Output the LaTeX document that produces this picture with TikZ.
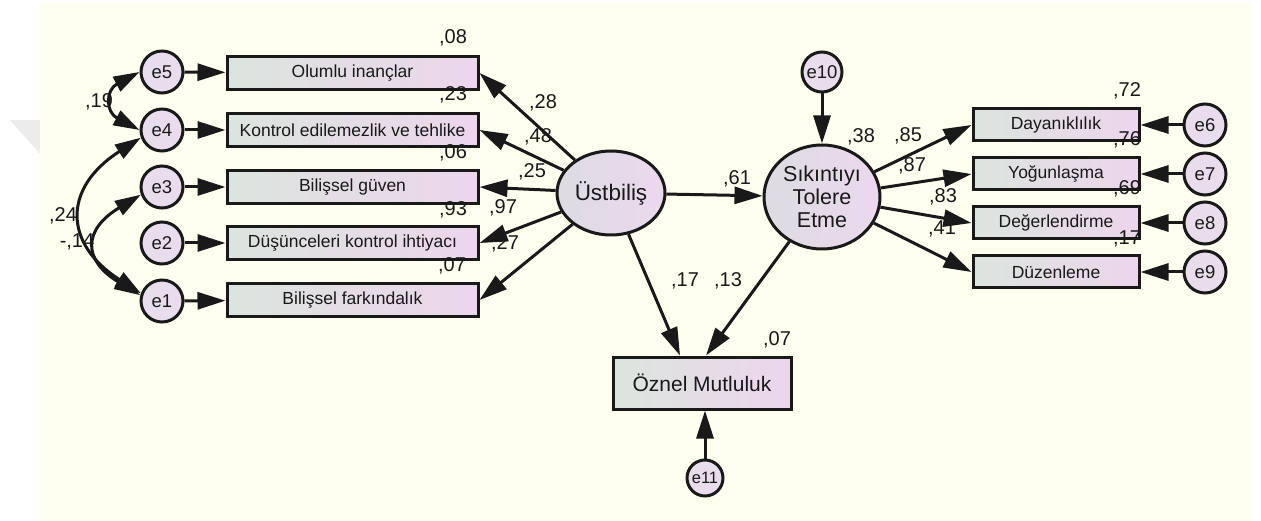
\documentclass[tikz,border=0pt]{standalone}
\usepackage{fontspec}
\setmainfont{Liberation Sans}
\usetikzlibrary{arrows.meta,calc,shapes.geometric}
\definecolor{bg}{RGB}{255,255,240}
\definecolor{boxL}{RGB}{220,228,222}
\definecolor{boxR}{RGB}{236,214,236}
\definecolor{circ}{RGB}{233,220,236}
\definecolor{ellL}{RGB}{220,220,226}
\definecolor{ellR}{RGB}{236,216,238}
\definecolor{ink}{RGB}{25,25,25}
\definecolor{wm}{RGB}{236,236,236}
\tikzset{
  obs/.style={draw=ink, line width=3pt, left color=boxL, right color=boxR, minimum height=33pt, inner sep=0pt, font=\fontsize{17.5}{20}\selectfont, text=ink},
  err/.style={circle, draw=ink, line width=3pt, fill=circ, minimum size=42pt, inner sep=0pt, font=\fontsize{18.5}{20}\selectfont, text=ink},
  lat/.style={ellipse, draw=ink, line width=3pt, left color=ellL, right color=ellR, inner sep=0pt, align=center, text=ink},
  num/.style={font=\fontsize{20}{22}\selectfont, text=ink, inner sep=0pt},
  reg/.style={line width=3pt, draw=ink, -{Triangle[length=28pt,width=17pt]}},
  cov/.style={line width=3pt, draw=ink, {Triangle[length=26pt,width=16pt]}-{Triangle[length=26pt,width=16pt]}},
}
\begin{document}
\begin{tikzpicture}[x=1pt,y=-1pt]
\useasboundingbox (0,0) rectangle (1261,521);
\fill[white] (0,0) rectangle (1261,521);
\fill[wm] (10,120) -- (40,120) -- (40,154) -- cycle;
\fill[bg] (40,3) rectangle (1251,521);

% error terms left
\node[err] (e5) at (162,72) {e5};
\node[err] (e4) at (162,130) {e4};
\node[err] (e3) at (162,187) {e3};
\node[err] (e2) at (162,243) {e2};
\node[err] (e1) at (162,301) {e1};

% left observed
\node[obs, minimum width=251pt] (b5) at (352.5,73) {Olumlu inançlar};
\node[obs, minimum width=251pt] (b4) at (352.5,130) {Kontrol edilemezlik ve tehlike};
\node[obs, minimum width=251pt] (b3) at (352.5,187) {Bilişsel güven};
\node[obs, minimum width=251pt] (b2) at (352.5,243) {Düşünceleri kontrol ihtiyacı};
\node[obs, minimum width=251pt] (b1) at (352.5,300) {Bilişsel farkındalık};

% latent
\node[lat, minimum width=108pt, minimum height=84pt, font=\fontsize{22.5}{24}\selectfont] (us) at (611,193) {Üstbiliş};
\node[lat, minimum width=116pt, minimum height=104pt, font=\fontsize{21.5}{23}\selectfont] (sk) at (822,197) {Sıkıntıyı\\Tolere\\Etme};
\node[err, minimum size=40pt] (e10) at (822,72) {e10};

% right observed
\node[obs, minimum width=166pt, minimum height=32pt] (r1) at (1056,125) {Dayanıklılık};
\node[obs, minimum width=166pt, minimum height=32pt] (r2) at (1056,174) {Yoğunlaşma};
\node[obs, minimum width=166pt, minimum height=32pt] (r3) at (1056,223) {Değerlendirme};
\node[obs, minimum width=166pt, minimum height=32pt] (r4) at (1056,272) {Düzenleme};
\node[err] (e6) at (1205,125) {e6};
\node[err] (e7) at (1205,174) {e7};
\node[err] (e8) at (1205,223) {e8};
\node[err] (e9) at (1205,272) {e9};

% outcome
\node[obs, minimum width=178pt, minimum height=52pt, font=\fontsize{21}{23}\selectfont] (oz) at (702,383) {Öznel Mutluluk};
\node[err, minimum size=36pt, font=\fontsize{16.5}{18}\selectfont] (e11) at (705,478) {e11};
\coordinate (ozA) at ($(oz.north)+(-22,0)$);
\coordinate (ozB) at ($(oz.north)+(4,0)$);

% error arrows
\foreach \e/\b in {e5/b5,e4/b4,e3/b3,e2/b2,e1/b1,e6/r1,e7/r2,e8/r3,e9/r4}
  \draw[reg] (\e) -- (\b);
\draw[reg] (e10) -- (sk);
\draw[reg] (e11) -- (e11 |- oz.south);

% structural arrows
\foreach \b in {b5,b4,b3,b2,b1}
  \draw[reg] (us) -- (\b.east);
\foreach \b in {r1,r2,r3,r4}
  \draw[reg] (sk) -- (\b.west);
\draw[reg] (us) -- (sk);
\draw[reg] (us) -- (ozA);
\draw[reg] (sk) -- (ozB);

% covariances
\draw[cov] (e5.west) .. controls +(-34,18) and +(-34,-18) .. (e4.west);
\draw[cov] (e4.200) .. controls +(-78,50) and +(-78,-50) .. (e1.160);
\draw[cov] (e3.200) .. controls +(-58,35) and +(-58,-35) .. (e1.165);

% numbers
\node[num] (n1) at (453,38) {,08};
\node[num] (n2) at (453,95) {,23};
\node[num] (n3) at (453,153) {,06};
\node[num] (n4) at (453,210) {,93};
\node[num] (n5) at (452,266) {,07};
\node[num] (n6) at (99,102) {,19};
\node[num] (n7) at (63,216) {,24};
\node[num] (n8) at (77,242) {-,14};
\node[num] (n9) at (543,103) {,28};
\node[num] (n10) at (538,137) {,48};
\node[num] (n11) at (532,172) {,25};
\node[num] (n12) at (503,208) {,97};
\node[num] (n13) at (505,244) {,27};
\node[num] (n14) at (737,179) {,61};
\node[num] (n15) at (685,281) {,17};
\node[num] (n16) at (728,281) {,13};
\node[num] (n17) at (777,340) {,07};
\node[num] (n18) at (861,137) {,38};
\node[num] (n19) at (908,136) {,85};
\node[num] (n20) at (912,166) {,87};
\node[num] (n21) at (943,197) {,83};
\node[num] (n22) at (942,229) {,41};
\node[num] (n23) at (1127,91) {,72};
\node[num] (n24) at (1127,140) {,76};
\node[num] (n25) at (1127,189) {,69};
\node[num] (n26) at (1127,239) {,17};
\end{tikzpicture}
\end{document}
